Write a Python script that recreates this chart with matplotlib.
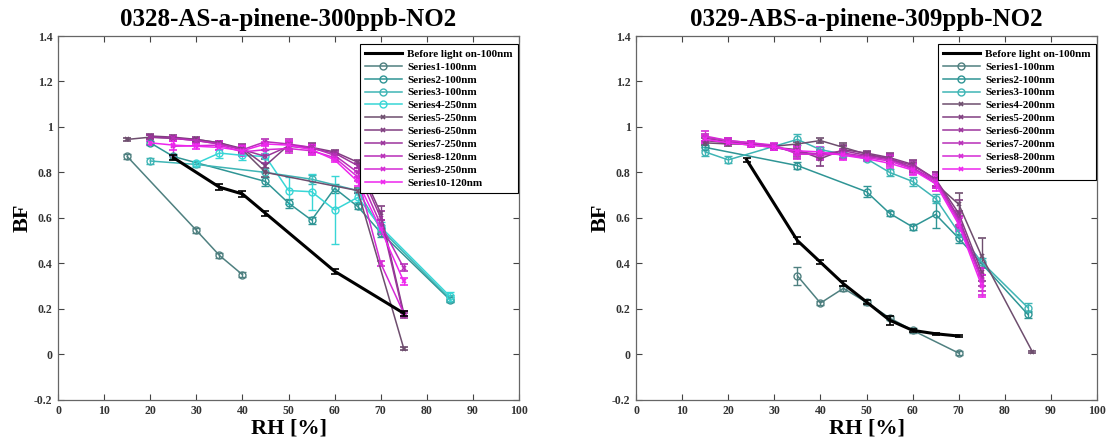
import numpy as np
import matplotlib
matplotlib.use('Agg')
import matplotlib.pyplot as plt

plt.rcParams['font.family'] = ['Liberation Serif', 'DejaVu Serif']
plt.rcParams['font.weight'] = 'bold'

# ---------------- left panel data: 0328-AS ----------------
l_black_x = [25, 35, 40, 45, 60, 75]
l_black_y = [0.865, 0.735, 0.705, 0.62, 0.365, 0.18]
l_black_e = [0.012, 0.012, 0.012, 0.012, 0.01, 0.012]

l_s1_x = [15, 30, 35, 40]
l_s1_y = [0.87, 0.545, 0.435, 0.35]
l_s1_e = [0.01, 0.01, 0.01, 0.01]

l_s2_x = [20, 25, 45, 50, 55, 60, 65, 70, 85]
l_s2_y = [0.93, 0.87, 0.76, 0.665, 0.59, 0.73, 0.65, 0.535, 0.24]
l_s2_e = [0.01, 0.01, 0.02, 0.02, 0.015, 0.02, 0.01, 0.02, 0.01]

l_s3_x = [20, 30, 45, 55, 65, 70, 85]
l_s3_y = [0.85, 0.835, 0.80, 0.77, 0.72, 0.55, 0.245]
l_s3_e = [0.015, 0.01, 0.02, 0.02, 0.01, 0.02, 0.015]

l_s4_x = [30, 35, 40, 45, 50, 55, 60, 65, 70, 85]
l_s4_y = [0.84, 0.885, 0.875, 0.87, 0.72, 0.715, 0.635, 0.69, 0.56, 0.255]
l_s4_e = [0.01, 0.02, 0.02, 0.03, 0.06, 0.08, 0.15, 0.02, 0.02, 0.02]

l_s5_x = [15, 20, 25, 30, 35, 40, 45, 65, 75]
l_s5_y = [0.945, 0.955, 0.95, 0.945, 0.93, 0.90, 0.80, 0.72, 0.025]
l_s5_e = [0.008, 0.01, 0.01, 0.008, 0.01, 0.01, 0.02, 0.01, 0.005]

l_s6_x = [20, 25, 30, 35, 40, 45, 50, 55, 60, 65, 70, 75]
l_s6_y = [0.96, 0.955, 0.945, 0.93, 0.905, 0.83, 0.92, 0.91, 0.89, 0.845, 0.62, 0.18]
l_s6_e = [0.01, 0.01, 0.01, 0.01, 0.02, 0.03, 0.02, 0.02, 0.01, 0.01, 0.03, 0.01]

l_s7_x = [20, 25, 30, 35, 40, 45, 50, 55, 60, 65, 70, 75]
l_s7_y = [0.955, 0.95, 0.94, 0.925, 0.90, 0.87, 0.915, 0.905, 0.885, 0.83, 0.60, 0.17]
l_s7_e = [0.01, 0.01, 0.01, 0.01, 0.02, 0.03, 0.02, 0.02, 0.01, 0.01, 0.03, 0.01]

l_s8_x = [25, 30, 35, 40, 45, 50, 55, 60, 65, 70, 75]
l_s8_y = [0.95, 0.94, 0.925, 0.90, 0.935, 0.925, 0.91, 0.875, 0.80, 0.57, 0.38]
l_s8_e = [0.01, 0.01, 0.01, 0.02, 0.01, 0.02, 0.01, 0.01, 0.02, 0.02, 0.015]

l_s9_x = [25, 35, 40, 45, 50, 55, 60, 65, 70, 75]
l_s9_y = [0.915, 0.92, 0.89, 0.90, 0.905, 0.895, 0.865, 0.78, 0.40, 0.18]
l_s9_e = [0.045, 0.02, 0.02, 0.02, 0.02, 0.02, 0.01, 0.02, 0.01, 0.01]

l_s10_x = [20, 25, 30, 35, 40, 45, 50, 55, 60, 65, 70, 75]
l_s10_y = [0.93, 0.92, 0.915, 0.91, 0.895, 0.925, 0.92, 0.90, 0.855, 0.76, 0.55, 0.32]
l_s10_e = [0.01, 0.02, 0.01, 0.01, 0.02, 0.01, 0.02, 0.02, 0.01, 0.02, 0.02, 0.015]

# ---------------- right panel data: 0329-ABS ----------------
r_black_x = [24, 35, 40, 45, 50, 55, 60, 65, 70]
r_black_y = [0.855, 0.50, 0.405, 0.31, 0.23, 0.15, 0.105, 0.09, 0.08]
r_black_e = [0.01, 0.015, 0.01, 0.01, 0.01, 0.02, 0.005, 0.005, 0.005]

r_s1_x = [35, 40, 45, 50, 55, 60, 70]
r_s1_y = [0.345, 0.225, 0.29, 0.228, 0.16, 0.105, 0.005]
r_s1_e = [0.04, 0.01, 0.01, 0.01, 0.01, 0.01, 0.01]

r_s2_x = [15, 35, 50, 55, 60, 65, 70, 85]
r_s2_y = [0.91, 0.83, 0.715, 0.62, 0.56, 0.615, 0.51, 0.175]
r_s2_e = [0.01, 0.015, 0.025, 0.01, 0.015, 0.06, 0.02, 0.015]

r_s3_x = [15, 20, 35, 40, 45, 50, 55, 60, 65, 70, 75, 85]
r_s3_y = [0.89, 0.855, 0.945, 0.90, 0.88, 0.86, 0.80, 0.76, 0.685, 0.535, 0.405, 0.205]
r_s3_e = [0.02, 0.015, 0.025, 0.01, 0.01, 0.01, 0.015, 0.02, 0.02, 0.02, 0.02, 0.02]

r_s4_x = [15, 20, 25, 30, 35, 40, 45, 50, 55, 60, 65, 70, 75, 86]
r_s4_y = [0.93, 0.925, 0.925, 0.915, 0.925, 0.94, 0.91, 0.88, 0.86, 0.82, 0.75, 0.66, 0.43, 0.01]
r_s4_e = [0.01, 0.01, 0.01, 0.01, 0.01, 0.01, 0.02, 0.01, 0.01, 0.02, 0.02, 0.05, 0.08, 0.005]

r_s5_x = [15, 20, 25, 30, 35, 40, 45, 50, 55, 60, 65, 70, 75]
r_s5_y = [0.94, 0.93, 0.92, 0.91, 0.90, 0.86, 0.90, 0.885, 0.865, 0.835, 0.77, 0.62, 0.36]
r_s5_e = [0.01, 0.01, 0.01, 0.01, 0.02, 0.03, 0.02, 0.01, 0.02, 0.02, 0.03, 0.06, 0.04]

r_s6_x = [15, 20, 25, 30, 35, 40, 45, 50, 55, 60, 65, 70, 75]
r_s6_y = [0.95, 0.935, 0.925, 0.91, 0.89, 0.88, 0.895, 0.875, 0.86, 0.83, 0.77, 0.60, 0.34]
r_s6_e = [0.01, 0.01, 0.01, 0.01, 0.02, 0.02, 0.02, 0.01, 0.02, 0.02, 0.03, 0.03, 0.04]

r_s7_x = [15, 20, 25, 30, 35, 40, 45, 50, 55, 60, 65, 70, 75]
r_s7_y = [0.955, 0.94, 0.93, 0.915, 0.885, 0.875, 0.885, 0.87, 0.855, 0.82, 0.765, 0.59, 0.33]
r_s7_e = [0.015, 0.01, 0.01, 0.01, 0.02, 0.02, 0.02, 0.01, 0.02, 0.02, 0.03, 0.03, 0.05]

r_s8_x = [15, 20, 25, 30, 35, 40, 45, 50, 55, 60, 65, 70, 75]
r_s8_y = [0.96, 0.94, 0.93, 0.92, 0.88, 0.88, 0.88, 0.865, 0.85, 0.815, 0.76, 0.58, 0.32]
r_s8_e = [0.02, 0.01, 0.01, 0.01, 0.02, 0.02, 0.02, 0.01, 0.02, 0.02, 0.03, 0.03, 0.06]

r_s9_x = [15, 20, 25, 30, 35, 40, 45, 50, 55, 60, 65, 70, 75]
r_s9_y = [0.945, 0.93, 0.92, 0.91, 0.895, 0.89, 0.875, 0.86, 0.84, 0.81, 0.75, 0.57, 0.30]
r_s9_e = [0.015, 0.01, 0.01, 0.01, 0.02, 0.02, 0.02, 0.01, 0.02, 0.02, 0.03, 0.03, 0.05]

# colours
teal_cols = ['#4f8080', '#2f9595', '#3fb5b5', '#38d6d6']
purp_cols = ['#6e4e6e', '#813f81', '#9c349c', '#b82eb8', '#d52ad5', '#ee26ee']

fig = plt.figure(figsize=(11.1, 4.45), dpi=100)
ax1 = fig.add_axes([0.0523, 0.1018, 0.4153, 0.8173])
ax2 = fig.add_axes([0.5730, 0.1018, 0.4153, 0.8173])


def draw(ax, x, y, e, label, color, kind, hs, ls):
  if kind == 'black':
    c = ax.errorbar(x, y, yerr=e, color='black', lw=2.2, capsize=3, elinewidth=1.2,
                    capthick=1.2, zorder=5)
  elif kind == 'o':
    c = ax.errorbar(x, y, yerr=e, color=color, lw=1.1, marker='o', ms=5, mfc='none',
                    mec=color, mew=1.0, capsize=3, elinewidth=1.0, capthick=1.0)
  else:
    c = ax.errorbar(x, y, yerr=e, color=color, lw=1.1, marker='x', ms=3.5, mew=1.2,
                    capsize=3, elinewidth=1.0, capthick=1.0)
  hs.append(c.lines[0])
  ls.append(label)


h1, lab1 = [], []
draw(ax1, l_black_x, l_black_y, l_black_e, 'Before light on-100nm', 'black', 'black', h1, lab1)
draw(ax1, l_s1_x, l_s1_y, l_s1_e, 'Series1-100nm', teal_cols[0], 'o', h1, lab1)
draw(ax1, l_s2_x, l_s2_y, l_s2_e, 'Series2-100nm', teal_cols[1], 'o', h1, lab1)
draw(ax1, l_s3_x, l_s3_y, l_s3_e, 'Series3-100nm', teal_cols[2], 'o', h1, lab1)
draw(ax1, l_s4_x, l_s4_y, l_s4_e, 'Series4-250nm', teal_cols[3], 'o', h1, lab1)
draw(ax1, l_s5_x, l_s5_y, l_s5_e, 'Series5-250nm', purp_cols[0], 'x', h1, lab1)
draw(ax1, l_s6_x, l_s6_y, l_s6_e, 'Series6-250nm', purp_cols[1], 'x', h1, lab1)
draw(ax1, l_s7_x, l_s7_y, l_s7_e, 'Series7-250nm', purp_cols[2], 'x', h1, lab1)
draw(ax1, l_s8_x, l_s8_y, l_s8_e, 'Series8-120nm', purp_cols[3], 'x', h1, lab1)
draw(ax1, l_s9_x, l_s9_y, l_s9_e, 'Series9-250nm', purp_cols[4], 'x', h1, lab1)
draw(ax1, l_s10_x, l_s10_y, l_s10_e, 'Series10-120nm', purp_cols[5], 'x', h1, lab1)

h2, lab2 = [], []
draw(ax2, r_black_x, r_black_y, r_black_e, 'Before light on-100nm', 'black', 'black', h2, lab2)
draw(ax2, r_s1_x, r_s1_y, r_s1_e, 'Series1-100nm', teal_cols[0], 'o', h2, lab2)
draw(ax2, r_s2_x, r_s2_y, r_s2_e, 'Series2-100nm', teal_cols[1], 'o', h2, lab2)
draw(ax2, r_s3_x, r_s3_y, r_s3_e, 'Series3-100nm', teal_cols[2], 'o', h2, lab2)
draw(ax2, r_s4_x, r_s4_y, r_s4_e, 'Series4-200nm', purp_cols[0], 'x', h2, lab2)
draw(ax2, r_s5_x, r_s5_y, r_s5_e, 'Series5-200nm', purp_cols[1], 'x', h2, lab2)
draw(ax2, r_s6_x, r_s6_y, r_s6_e, 'Series6-200nm', purp_cols[2], 'x', h2, lab2)
draw(ax2, r_s7_x, r_s7_y, r_s7_e, 'Series7-200nm', purp_cols[3], 'x', h2, lab2)
draw(ax2, r_s8_x, r_s8_y, r_s8_e, 'Series8-200nm', purp_cols[4], 'x', h2, lab2)
draw(ax2, r_s9_x, r_s9_y, r_s9_e, 'Series9-200nm', purp_cols[5], 'x', h2, lab2)

titles = ['0328-AS-a-pinene-300ppb-NO2', '0329-ABS-a-pinene-309ppb-NO2']
for ax, title, hs, ls in zip([ax1, ax2], titles, [h1, h2], [lab1, lab2]):
  ax.set_xlim(0, 100)
  ax.set_ylim(-0.2, 1.4)
  ax.set_xticks(np.arange(0, 101, 10))
  ax.set_yticks(np.arange(-0.2, 1.41, 0.2))
  ax.set_yticklabels(['-0.2', '0', '0.2', '0.4', '0.6', '0.8', '1', '1.2', '1.4'])
  ax.tick_params(direction='in', length=4, width=0.8, top=True, right=True,
                 labelsize=8.5, colors='#444444', labelcolor='#333333', pad=4)
  for sp in ax.spines.values():
    sp.set_color('#666666')
    sp.set_linewidth(0.9)
  ax.set_title(title, fontsize=18, fontweight='bold', pad=7)
  ax.set_xlabel('RH [%]', fontsize=16, fontweight='bold', labelpad=1)
  ax.set_ylabel('BF', fontsize=16, fontweight='bold', labelpad=1)
  leg = ax.legend(hs, ls, loc='upper right',
                  bbox_to_anchor=(0.997, 0.978), borderaxespad=0,
                  fontsize=8, labelspacing=0.28, handlelength=3.3,
                  handletextpad=0.5, borderpad=0.45, fancybox=False, framealpha=1)
  leg.get_frame().set_edgecolor('black')
  leg.get_frame().set_linewidth(0.8)

plt.savefig('out.png', dpi=100)
